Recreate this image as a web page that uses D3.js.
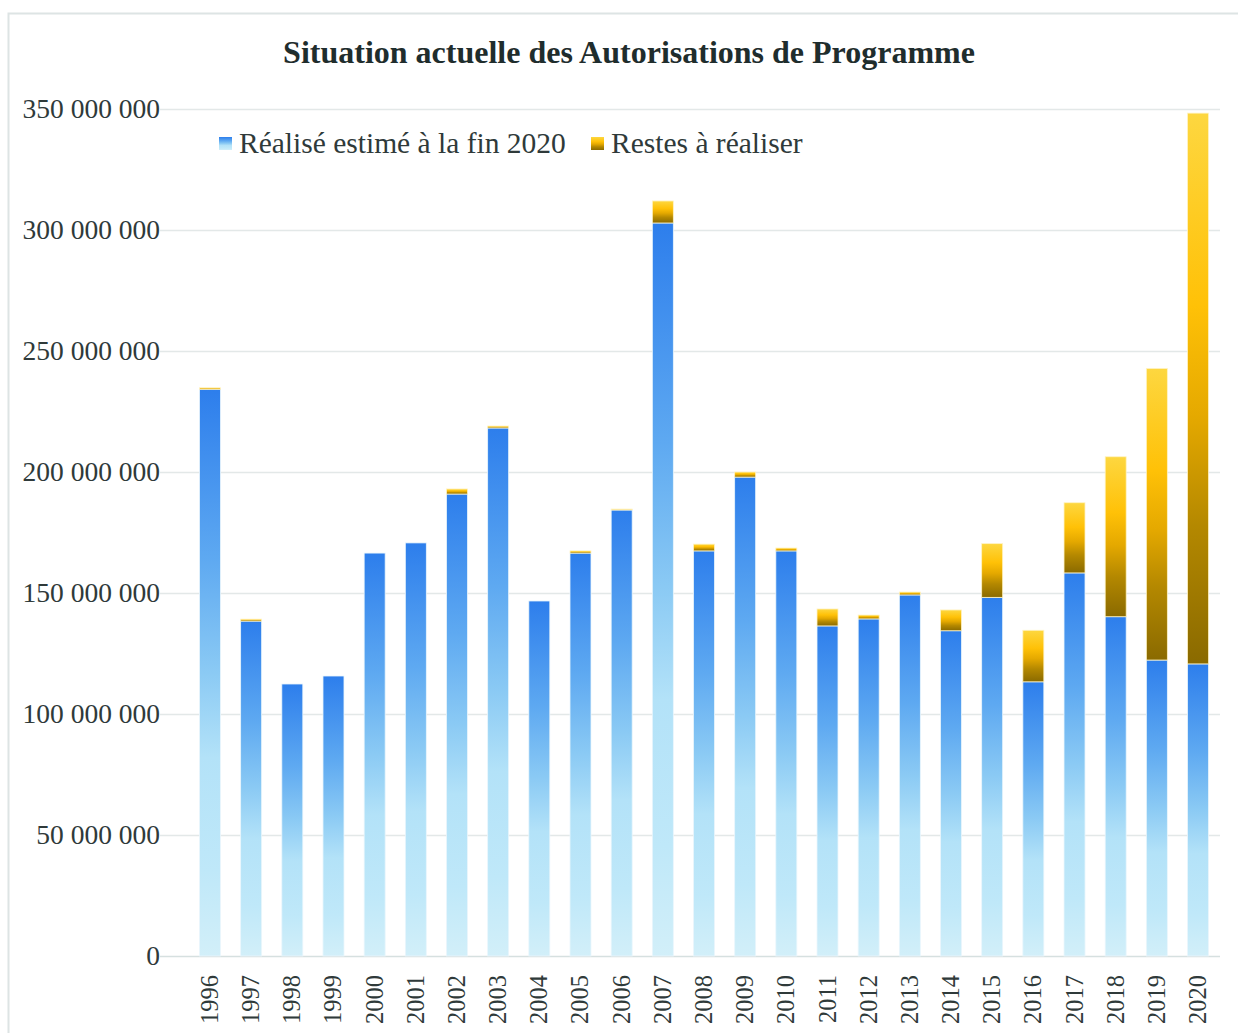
<!DOCTYPE html>
<html>
<head>
<meta charset="utf-8">
<script src="https://cdn.jsdelivr.net/npm/d3@7"></script>
<style>
  body { margin: 0; background: #fff; }
</style>
</head>
<body>
<script>
// data
let years = ["1996","1997","1998","1999","2000","2001","2002","2003","2004","2005","2006","2007",
             "2008","2009","2010","2011","2012","2013","2014","2015","2016","2017","2018","2019","2020"];
let realise = [234.2, 138.4, 112.4, 115.7, 166.5, 170.7, 190.9, 218.2, 146.7, 166.5, 184.3, 302.9,
               167.4, 197.9, 167.4, 136.4, 139.3, 149.2, 134.4, 148.2, 113.3, 158.3, 140.2, 122.3, 120.7];
let restes = [0.6, 0.8, 0, 0, 0, 0, 2.1, 0.8, 0, 0.9, 0.4, 9.1,
              2.8, 2.1, 1.2, 7.0, 1.6, 1.2, 8.6, 22.2, 21.3, 29.0, 66.1, 120.5, 227.6];
let yTicks = [0, 50, 100, 150, 200, 250, 300, 350];

let W = 1238, H = 1033;
let serif = "'Liberation Serif', 'Times New Roman', serif";
let svg = d3.select("body").append("svg")
    .attr("width", W)
    .attr("height", H)
    .attr("font-family", serif);

// gradients (one per bar, top to bottom)
let defs = svg.append("defs");
let gBlue = defs.append("linearGradient").attr("id", "gBlue")
    .attr("x1", 0).attr("y1", 0).attr("x2", 0).attr("y2", 1);
[["0%", "#2d7eec"], ["30%", "#5ea9f1"], ["50%", "#8bcaf4"], ["65%", "#b3e2f8"], ["85%", "#bfe8f9"], ["100%", "#d2eff9"]].forEach(function(s) {
  gBlue.append("stop").attr("offset", s[0]).attr("stop-color", s[1]);
});
let gYel = defs.append("linearGradient").attr("id", "gYel")
    .attr("x1", 0).attr("y1", 0).attr("x2", 0).attr("y2", 1);
[["0%", "#fdd740"], ["35%", "#ffc107"], ["55%", "#e5a900"], ["75%", "#b48800"], ["100%", "#8a6a00"]].forEach(function(s) {
  gYel.append("stop").attr("offset", s[0]).attr("stop-color", s[1]);
});

// outer frame
svg.append("rect")
    .attr("x", 8.5).attr("y", 13.5)
    .attr("width", W).attr("height", H)
    .attr("fill", "none")
    .attr("stroke", "#dde4e4")
    .attr("stroke-width", 2);

// scales
let xScale = d3.scaleBand().domain(years).range([189.4, 1218.6]).paddingInner(0.49).paddingOuter(0.245);
let yScale = d3.scaleLinear().domain([0, 350]).range([956, 109]);

// gridlines
svg.append("g").selectAll("line")
    .data(yTicks)
  .enter().append("line")
    .attr("x1", 160).attr("x2", 1220)
    .attr("y1", function(d) { return yScale(d) + 0.5; })
    .attr("y2", function(d) { return yScale(d) + 0.5; })
    .attr("stroke", function(d) { return d === 0 ? "#d6e0e0" : "#e3e8e8"; })
    .attr("stroke-width", 1.5);

// y labels
svg.append("g").selectAll("text")
    .data(yTicks)
  .enter().append("text")
    .attr("x", 160)
    .attr("y", function(d) { return yScale(d) + 9; })
    .attr("text-anchor", "end")
    .attr("font-size", 27.5)
    .attr("fill", "#2f3a3a")
    .text(function(d) { return d === 0 ? "0" : d + " 000 000"; });

// bars - realised
svg.append("g").selectAll("rect")
    .data(years)
  .enter().append("rect")
    .attr("x", function(d) { return xScale(d); })
    .attr("width", xScale.bandwidth())
    .attr("y", function(d, i) { return yScale(realise[i]); })
    .attr("height", function(d, i) { return yScale(0) - yScale(realise[i]); })
    .attr("fill", "url(#gBlue)")
    .attr("stroke", "#eaf6fc")
    .attr("stroke-width", 0.8);

// bars - remaining
svg.append("g").selectAll("rect")
    .data(years.filter(function(d, i) { return restes[i] > 0; }))
  .enter().append("rect")
    .attr("x", function(d) { return xScale(d); })
    .attr("width", xScale.bandwidth())
    .attr("y", function(d) { let i = years.indexOf(d); return yScale(realise[i] + restes[i]); })
    .attr("height", function(d) { let i = years.indexOf(d); return yScale(realise[i]) - yScale(realise[i] + restes[i]); })
    .attr("fill", "url(#gYel)")
    .attr("stroke", "#fff3c4")
    .attr("stroke-width", 0.8);

// x labels (rotated)
svg.append("g").selectAll("text")
    .data(years)
  .enter().append("text")
    .attr("transform", function(d) {
      return "translate(" + (xScale(d) + xScale.bandwidth() / 2 + 8) + ",975) rotate(-90)";
    })
    .attr("text-anchor", "end")
    .attr("font-size", 24.5)
    .attr("fill", "#2f3a3a")
    .text(function(d) { return d; });

// title
svg.append("text")
    .attr("x", 629).attr("y", 63)
    .attr("text-anchor", "middle")
    .attr("font-size", 32)
    .attr("font-weight", "bold")
    .attr("fill", "#1f2d2d")
    .text("Situation actuelle des Autorisations de Programme");

// legend
let legend = [
  {name: "Réalisé estimé à la fin 2020", fill: "url(#gBlue)", x: 219},
  {name: "Restes à réaliser", fill: "url(#gYel)", x: 591}
];
let lg = svg.append("g").selectAll("g")
    .data(legend)
  .enter().append("g")
    .attr("transform", function(d) { return "translate(" + d.x + ",0)"; });
lg.append("rect")
    .attr("x", 0).attr("y", 137)
    .attr("width", 13).attr("height", 13)
    .attr("fill", function(d) { return d.fill; });
lg.append("text")
    .attr("x", 20).attr("y", 153)
    .attr("font-size", 29.5)
    .attr("fill", "#2f3a3a")
    .text(function(d) { return d.name; });
</script>
</body>
</html>
